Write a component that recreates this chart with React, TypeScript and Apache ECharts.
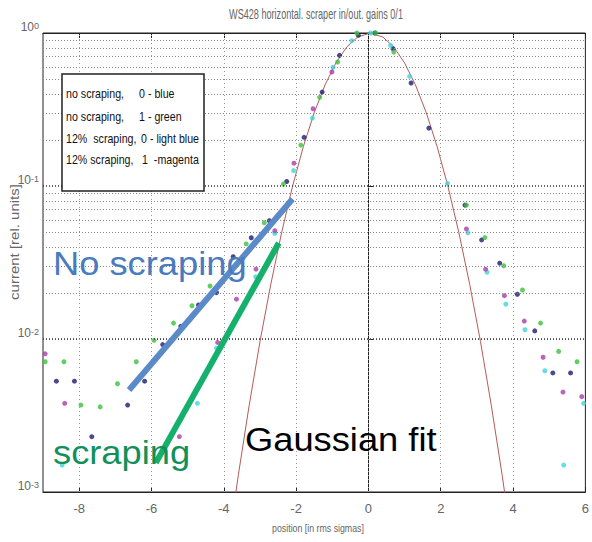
import React, { useEffect, useRef } from "react";
import * as echarts from "echarts";

// ---- axis ticks / grid values ----
const xTickValues = [-8, -6, -4, -2, 0, 2, 4, 6];
const xGridValues = [-8, -6, -4, -2, 0, 2, 4];
const yMajorGrid = [0.01, 0.1];
const yMinorGrid = [
  0.002, 0.003, 0.004, 0.005, 0.006, 0.007, 0.008, 0.009,
  0.02, 0.03, 0.04, 0.05, 0.06, 0.07, 0.08, 0.09,
  0.2, 0.3, 0.4, 0.5, 0.6, 0.7, 0.8, 0.9,
];

// ---- measured series (position in rms sigmas, current rel. units) ----
const blueX = [-8.63, -8.13, -7.65, -6.66, -6.19, -5.69, -5.19, -4.7, -4.2, -3.74, -3.24, -2.74, -2.26, -1.78, -1.28, -0.8, -0.28, 0.18, 0.68, 1.18, 1.67, 2.67, 3.13, 3.63, 4.12, 4.6, 5.1, 5.59];
const blueY = [0.0053, 0.0053, 0.0023, 0.0037, 0.0053, 0.0092, 0.0121, 0.0167, 0.0201, 0.0345, 0.0459, 0.0593, 0.107, 0.208, 0.411, 0.715, 0.966, 1.0, 0.79, 0.471, 0.239, 0.075, 0.0444, 0.0313, 0.0196, 0.0113, 0.006, 0.006];

const greenX = [-8.94, -8.42, -7.95, -7.42, -6.94, -6.42, -5.93, -5.39, -4.88, -4.38, -3.38, -2.88, -2.35, -1.87, -1.35, -0.85, -0.32, 0.2, 0.7, 2.71, 3.22, 3.74, 4.26, 4.76, 5.26, 5.77];
const greenY = [0.0071, 0.0071, 0.0037, 0.0036, 0.0051, 0.0071, 0.0098, 0.0127, 0.0165, 0.0222, 0.0418, 0.0575, 0.103, 0.185, 0.38, 0.646, 1.0, 1.0, 0.75, 0.075, 0.046, 0.0301, 0.0209, 0.0127, 0.0083, 0.0071];

const cyanX = [-8.47, -4.73, -4.2, -3.12, -2.59, -2.07, -1.55, -0.98, -0.46, 0.06, 0.61, 1.14, 2.19, 2.75, 3.28, 3.8, 4.33, 4.88, 5.4, 5.95];
const cyanY = [0.0015, 0.0038, 0.0087, 0.0255, 0.049, 0.126, 0.278, 0.597, 0.891, 1.0, 0.83, 0.521, 0.104, 0.0495, 0.0273, 0.0169, 0.0115, 0.0062, 0.0015, 0.0038];

const magentaX = [-8.94, -8.4, -5.23, -4.17, -3.65, -3.11, -2.59, -2.06, -1.53, -1.01, 2.71, 3.24, 3.76, 4.31, 4.83, 5.38, 5.9];
const magentaY = [0.008, 0.0038, 0.0023, 0.0095, 0.0182, 0.0286, 0.051, 0.141, 0.32, 0.556, 0.0524, 0.0286, 0.0192, 0.0131, 0.0076, 0.0045, 0.0042];

// ---- Gaussian fit curve ----
const fitX = [-3.9, -3.6, -3.3, -3.0, -2.7, -2.4, -2.1, -1.8, -1.5, -1.2, -0.9, -0.6, -0.3, 0.05, 0.4, 0.7, 1.0, 1.3, 1.6, 1.9, 2.2, 2.5, 2.8, 3.1, 3.4, 3.7, 4.0];
const fitY = [0.00041, 0.00128, 0.00366, 0.0096, 0.0228, 0.0497, 0.0992, 0.181, 0.301, 0.458, 0.637, 0.81, 0.941, 1.0, 0.941, 0.81, 0.637, 0.458, 0.301, 0.181, 0.0992, 0.0497, 0.0228, 0.0096, 0.00366, 0.00128, 0.00041];

// ---- annotation trend lines ----
const noScrapeLineX = [-6.62, -2.1];
const noScrapeLineY = [0.00464, 0.0822];
const scrapeLineX = [-5.88, -2.48];
const scrapeLineY = [0.00155, 0.0424];

// ---- texts ----
const titleText = "WS428 horizontal. scraper in/out. gains 0/1";
const xName = "position [in rms sigmas]";
const yName = "current [rel. units]";
const legendLeft = ["no scraping,", "no scraping,", "12%  scraping,", "12% scraping,"];
const legendRight = ["0 - blue", "1 - green", "0 - light blue", "1  -magenta"];

const zip = (xs: number[], ys: number[]) => xs.map((x, i) => [x, ys[i]]);

const SANS = "'Liberation Sans',Arial,sans-serif";

export default function App() {
  const ref = useRef<HTMLDivElement>(null);
  useEffect(() => {
    if (!ref.current) return;
    const chart = echarts.init(ref.current, undefined, { renderer: "svg" });

    const gridLines: any[] = [
      ...yMinorGrid.map((v) => ({ yAxis: v, lineStyle: { color: "#888", width: 1, type: [1, 2] } })),
      ...yMajorGrid.map((v) => ({ yAxis: v, lineStyle: { color: "#333", width: 1.5, type: [1, 2] } })),
      ...xGridValues.map((v) => ({ xAxis: v, lineStyle: { color: "#999", width: 1, type: [1, 3] } })),
    ];

    const legendGraphics: any[] = [
      {
        type: "rect",
        shape: { x: 62, y: 74, width: 142, height: 117 },
        style: { fill: "#fff", stroke: "#222", lineWidth: 1.5 },
        z: 100,
      },
    ];
    const legendYs = [94, 117, 139, 160];
    const legendRightX = [139, 139, 141, 142];
    legendLeft.forEach((t, i) => {
      legendGraphics.push({
        type: "text", x: 66, y: legendYs[i], z: 101, scaleX: 0.82,
        style: { text: t, fill: "#111", fontSize: 13, fontFamily: SANS, textVerticalAlign: "middle" },
      });
      legendGraphics.push({
        type: "text", x: legendRightX[i], y: legendYs[i], z: 101, scaleX: 0.82,
        style: { text: legendRight[i], fill: "#111", fontSize: 13, fontFamily: SANS, textVerticalAlign: "middle" },
      });
    });

    const option: any = {
      animation: false,
      backgroundColor: "#ffffff",
      grid: { left: 43, top: 33, right: 1, bottom: 50, show: true, borderColor: "#222", borderWidth: 1, backgroundColor: "transparent" },
      xAxis: [
        {
          type: "value", min: -9, max: 6, position: "bottom",
          axisLine: { show: true, lineStyle: { color: "#222" } },
          axisTick: { show: true, inside: true, length: 5, customValues: xTickValues, lineStyle: { color: "#222" } },
          axisLabel: { customValues: xTickValues, margin: 10, color: "#666", fontSize: 13, fontFamily: SANS },
          splitLine: { show: false },
        },
        {
          type: "value", min: -9, max: 6, position: "top",
          axisLine: { show: true, lineStyle: { color: "#222" } },
          axisTick: { show: true, inside: true, length: 5, customValues: xTickValues, lineStyle: { color: "#222" } },
          axisLabel: { show: false },
          splitLine: { show: false },
        },
      ],
      yAxis: {
        type: "log", logBase: 10, min: 0.001, max: 1,
        axisLine: { show: true, lineStyle: { color: "#222" } },
        axisTick: { show: true, inside: true, length: 5, lineStyle: { color: "#222" } },
        splitLine: { show: false },
        axisLabel: {
          margin: 4,
          verticalAlign: "bottom",
          formatter: (v: number) => `{b|10}{e|${Math.round(Math.log10(v))}}`,
          rich: {
            b: { fontSize: 12, lineHeight: 12, color: "#666", fontFamily: SANS, verticalAlign: "bottom" },
            e: { fontSize: 9, lineHeight: 9, color: "#666", fontFamily: SANS, verticalAlign: "top", padding: [0, 0, 10, 0] },
          },
        },
      },
      graphic: [
        { type: "text", x: 316, y: 14, scaleX: 0.65, style: { text: titleText, fill: "#666", fontSize: 14, fontFamily: SANS, textAlign: "center", textVerticalAlign: "middle" } },
        { type: "text", x: 318, y: 528, scaleX: 0.8, style: { text: xName, fill: "#666", fontSize: 11, fontFamily: SANS, textAlign: "center", textVerticalAlign: "middle" } },
        { type: "text", x: 15, y: 242, rotation: Math.PI / 2, scaleX: 1.25, style: { text: yName, fill: "#666", fontSize: 12, fontFamily: SANS, textAlign: "center", textVerticalAlign: "middle" } },
        ...legendGraphics,
        { type: "text", x: 53, y: 280, z: 110, scaleX: 1.1, style: { text: "No scraping", fill: "#4a7bbd", fontSize: 33, fontFamily: SANS, textVerticalAlign: "bottom" } },
        { type: "text", x: 53, y: 469, z: 110, scaleX: 1.1, style: { text: "scraping", fill: "#12905a", fontSize: 33, fontFamily: SANS, textVerticalAlign: "bottom" } },
        { type: "text", x: 245, y: 456, z: 110, scaleX: 1.1, style: { text: "Gaussian fit", fill: "#000", fontSize: 33, fontFamily: SANS, textVerticalAlign: "bottom" } },
      ],
      series: [
        {
          type: "line", data: [], silent: true,
          markLine: { silent: true, symbol: "none", label: { show: false }, data: gridLines, animation: false },
        },
        {
          name: "Gaussian fit", type: "line", data: zip(fitX, fitY), showSymbol: false, silent: true,
          lineStyle: { color: "#b65a5a", width: 1 }, z: 3,
        },
        { name: "no scraping 0", type: "scatter", data: zip(blueX, blueY), symbolSize: 5, itemStyle: { color: "#1c1c72" }, z: 4 },
        { name: "no scraping 1", type: "scatter", data: zip(greenX, greenY), symbolSize: 5, itemStyle: { color: "#3cbf3c" }, z: 4 },
        { name: "12% scraping 0", type: "scatter", data: zip(cyanX, cyanY), symbolSize: 5, itemStyle: { color: "#40d4d8" }, z: 4 },
        { name: "12% scraping 1", type: "scatter", data: zip(magentaX, magentaY), symbolSize: 5, itemStyle: { color: "#a83caa" }, z: 4 },
        {
          name: "No scraping trend", type: "line", data: zip(noScrapeLineX, noScrapeLineY), showSymbol: false, silent: true,
          lineStyle: { color: "#5b8ac8", width: 6, cap: "butt" }, z: 6,
        },
        {
          name: "scraping trend", type: "line", data: zip(scrapeLineX, scrapeLineY), showSymbol: false, silent: true,
          lineStyle: { color: "#14b06c", width: 6, cap: "butt" }, z: 6,
        },
      ],
    };
    chart.setOption(option);
    return () => chart.dispose();
  }, []);
  return <div ref={ref} style={{ position: "fixed", left: 0, top: 0, width: 592, height: 542 }} />;
}
